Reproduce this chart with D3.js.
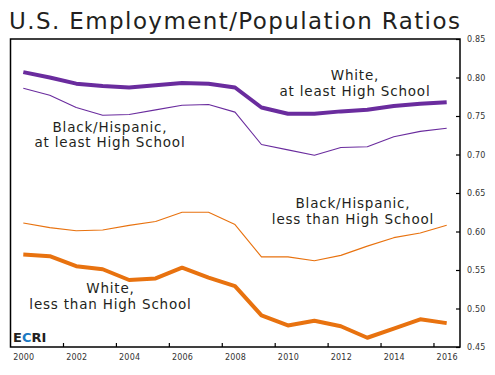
<!DOCTYPE html>
<html>
<head>
<meta charset="utf-8">
<script src="https://cdn.jsdelivr.net/npm/d3@7"></script>
<style>
  body { margin: 0; background: #fff; }
  svg text { font-family: "DejaVu Sans", sans-serif; fill: #231f20; }
  .axis path { display: none; }
  .axis line { stroke: #000; stroke-width: 1.2; }
  .axis text { font-size: 8px; fill: #333; letter-spacing: 0.2px; }
  .note { font-size: 13.5px; letter-spacing: 0.8px; }
</style>
</head>
<body>
<div id="chart-area"></div>
<script>

// SVG Size
var width = 495,
    height = 375;

// Data
var years = d3.range(2000, 2017);
var whiteHS         = [0.807, 0.800, 0.792, 0.789, 0.787, 0.790, 0.793, 0.792, 0.787, 0.761, 0.753, 0.753, 0.756, 0.758, 0.763, 0.766, 0.768];
var blackHispHS     = [0.786, 0.777, 0.761, 0.751, 0.752, 0.758, 0.764, 0.765, 0.755, 0.713, 0.706, 0.699, 0.709, 0.710, 0.723, 0.730, 0.734];
var blackHispLessHS = [0.611, 0.605, 0.601, 0.602, 0.608, 0.613, 0.625, 0.625, 0.609, 0.567, 0.567, 0.562, 0.569, 0.581, 0.592, 0.598, 0.608];
var whiteLessHS     = [0.570, 0.568, 0.555, 0.551, 0.537, 0.539, 0.553, 0.540, 0.529, 0.491, 0.478, 0.484, 0.477, 0.462, 0.474, 0.486, 0.481];

var yTicks = [0.45, 0.50, 0.55, 0.60, 0.65, 0.70, 0.75, 0.80, 0.85];
var xLabels = d3.range(2000, 2017, 2);

var purple = "#6a2c9e",
    orange = "#e8720f";

var series = [
  { values: blackHispHS,     color: purple, w: 1.1 },
  { values: blackHispLessHS, color: orange, w: 1.1 },
  { values: whiteHS,         color: purple, w: 4 },
  { values: whiteLessHS,     color: orange, w: 4 }
];

var notes = [
  { lines: ["White,", "at least High School"], x: 355, y: 80 },
  { lines: ["Black/Hispanic,", "at least High School"], x: 110, y: 131.5 },
  { lines: ["Black/Hispanic,", "less than High School"], x: 353, y: 208 },
  { lines: ["White,", "less than High School"], x: 110.5, y: 293 }
];

// Frame
var frame = { left: 10.5, right: 460, top: 39, bottom: 347 };

var svg = d3.select("#chart-area").append("svg")
    .attr("width", width)
    .attr("height", height);

// Scales
var x = d3.scaleLinear()
    .domain([2000, 2016])
    .range([23.3, 446.7]);

var y = d3.scaleLinear()
    .domain([0.45, 0.85])
    .range([frame.bottom, frame.top]);

// Title
svg.append("text")
    .attr("x", 9)
    .attr("y", 29)
    .style("font-size", "23px")
    .style("letter-spacing", "1.4px")
    .text("U.S. Employment/Population Ratios");

// Plot frame
svg.append("rect")
    .attr("x", frame.left)
    .attr("y", frame.top)
    .attr("width", frame.right - frame.left)
    .attr("height", frame.bottom - frame.top)
    .attr("fill", "none")
    .attr("stroke", "#000")
    .attr("stroke-width", 1.5);

// Y axis on the right, ticks pointing inward
var yAxis = d3.axisRight(y)
    .tickValues(yTicks)
    .tickFormat(d3.format(".2f"))
    .tickSizeInner(-4)
    .tickSizeOuter(0)
    .tickPadding(7);

svg.append("g")
    .attr("class", "y axis")
    .attr("transform", "translate(" + frame.right + ",0)")
    .call(yAxis);

// X axis: tick marks between years, labels on even years
var xTickAxis = d3.axisBottom(x)
    .tickValues(d3.range(2001.5, 2016, 2))
    .tickFormat("")
    .tickSizeInner(-4)
    .tickSizeOuter(0);

svg.append("g")
    .attr("class", "x axis")
    .attr("transform", "translate(0," + frame.bottom + ")")
    .call(xTickAxis);

var xLabelAxis = d3.axisBottom(x)
    .tickValues(xLabels)
    .tickFormat(d3.format("d"))
    .tickSize(0)
    .tickPadding(7);

svg.append("g")
    .attr("class", "x axis")
    .attr("transform", "translate(0," + frame.bottom + ")")
    .call(xLabelAxis);

// Lines
var line = d3.line()
    .x(function(d, i) { return x(years[i]); })
    .y(function(d) { return y(d); });

svg.selectAll(".series")
    .data(series)
    .enter()
    .append("path")
    .attr("class", "series")
    .attr("d", function(d) { return line(d.values); })
    .attr("fill", "none")
    .attr("stroke", function(d) { return d.color; })
    .attr("stroke-width", function(d) { return d.w; })
    .attr("stroke-linejoin", "round");

// Annotations
var noteText = svg.selectAll(".note")
    .data(notes)
    .enter()
    .append("text")
    .attr("class", "note")
    .attr("text-anchor", "middle")
    .attr("x", function(d) { return d.x; })
    .attr("y", function(d) { return d.y; });

noteText.selectAll("tspan")
    .data(function(d) { return d.lines.map(function(l) { return { text: l, x: d.x }; }); })
    .enter()
    .append("tspan")
    .attr("x", function(d) { return d.x; })
    .attr("dy", function(d, i) { return i === 0 ? 0 : 15.5; })
    .text(function(d) { return d.text; });

// ECRI logo
var logo = svg.append("text")
    .attr("x", 13)
    .attr("y", 341.5)
    .style("font-size", "13px")
    .style("font-weight", "bold");
logo.append("tspan").text("E");
logo.append("tspan").style("fill", "#1a7ac4").text("C");
logo.append("tspan").text("RI");

</script>
</body>
</html>
